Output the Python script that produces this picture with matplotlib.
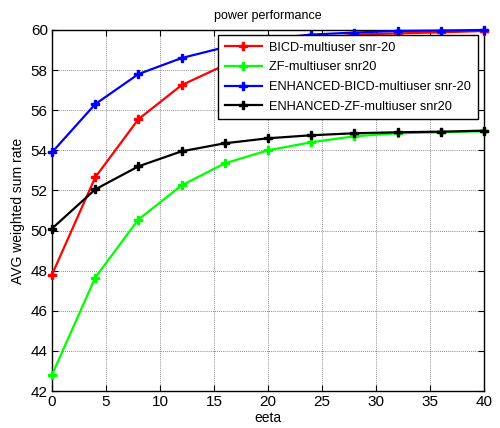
import matplotlib
matplotlib.use("Agg")
import matplotlib.pyplot as plt

plt.rcParams['font.family'] = ['Liberation Sans', 'DejaVu Sans']

eeta = [0, 4, 8, 12, 16, 20, 24, 28, 32, 36, 40]
bicd = [47.8, 52.65, 55.55, 57.25, 58.25, 58.95, 59.5, 59.77, 59.83, 59.88, 59.95]
zf = [42.8, 47.65, 50.55, 52.25, 53.35, 54.0, 54.4, 54.7, 54.85, 54.9, 54.95]
enh_bicd = [53.9, 56.3, 57.8, 58.6, 59.14, 59.55, 59.77, 59.87, 59.95, 59.97, 60.0]
enh_zf = [50.1, 52.05, 53.2, 53.95, 54.35, 54.6, 54.75, 54.85, 54.9, 54.93, 54.98]

labels = ['BICD-multiuser snr-20', 'ZF-multiuser snr20',
          'ENHANCED-BICD-multiuser snr-20', 'ENHANCED-ZF-multiuser snr20']
colors = ['#ff0000', '#00ff00', '#0000ff', '#000000']
xticks = [0, 5, 10, 15, 20, 25, 30, 35, 40]
yticks = [42, 44, 46, 48, 50, 52, 54, 56, 58, 60]

fig = plt.figure(figsize=(5, 4.28), dpi=100)
ax = fig.add_axes([0.104, 0.0864, 0.864, 0.8436])

for ys, c, lab in zip([bicd, zf, enh_bicd, enh_zf], colors, labels):
    ax.plot(eeta, ys, color=c, lw=1.6, marker='P', ms=5.5, mec=c, mfc=c, label=lab, clip_on=False, zorder=3)

ax.set_xlim(0, 40)
ax.set_ylim(42, 60)
ax.set_xticks(xticks)
ax.set_yticks(yticks)
ax.grid(True, color='#666666', linestyle=(0, (1, 1.5)), linewidth=0.6)
ax.tick_params(direction='in', top=True, right=True, labelsize=11, length=4, width=0.8, pad=3)
for s in ax.spines.values():
    s.set_linewidth(1.0)

ax.set_title('power performance', fontsize=9, pad=8)
ax.set_xlabel('eeta', fontsize=10, labelpad=1)
ax.set_ylabel('AVG weighted sum rate', fontsize=10, labelpad=4)

leg = ax.legend(loc='upper right', bbox_to_anchor=(0.985, 0.985), fontsize=9.2, frameon=True,
                fancybox=False, edgecolor='black', framealpha=1, handlelength=2.9,
                borderpad=0.5, labelspacing=0.6, handletextpad=0.6, borderaxespad=0)
leg.get_frame().set_linewidth(1.0)

fig.savefig('out.png', dpi=100)
